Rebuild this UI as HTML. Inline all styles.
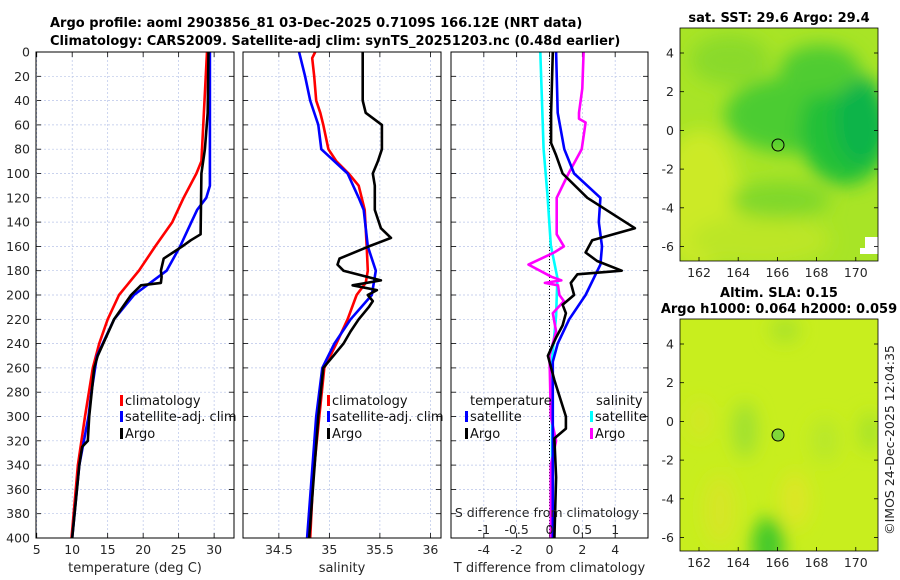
<!DOCTYPE html>
<html><head><meta charset="utf-8">
<style>
body{margin:0;background:#fff;}
svg{display:block;font-family:"DejaVu Sans","Liberation Sans",sans-serif;}
</style></head>
<body>
<svg id="fig" width="900" height="580" viewBox="0 0 900 580">
<defs>
<filter id="blur8"><feGaussianBlur stdDeviation="9"/></filter>
<filter id="blur5"><feGaussianBlur stdDeviation="5"/></filter>
<clipPath id="clipTop"><rect x="680" y="28" width="198" height="233"/></clipPath>
<clipPath id="clipBot"><rect x="680" y="319" width="198" height="232"/></clipPath>
</defs>
<g font-weight="bold" font-size="13">
<text x="50" y="27">Argo profile: aoml 2903856_81 03-Dec-2025 0.7109S 166.12E (NRT data)</text>
<text x="50" y="45">Climatology: CARS2009. Satellite-adj clim: synTS_20251203.nc (0.48d earlier)</text>
</g>
<g id="plots"></g>

<!-- maps -->
<g clip-path="url(#clipTop)">
<rect x="680" y="28" width="198" height="233" fill="#a8e426"/>
<g filter="url(#blur8)">
<ellipse cx="700" cy="200" rx="40" ry="70" fill="#ccea26"/>
<ellipse cx="760" cy="240" rx="70" ry="25" fill="#bce626"/>
<ellipse cx="730" cy="60" rx="40" ry="25" fill="#8ada2a"/>
<ellipse cx="790" cy="115" rx="65" ry="38" fill="#4ccc30"/>
<ellipse cx="845" cy="130" rx="45" ry="55" fill="#20c038"/>
<ellipse cx="860" cy="120" rx="25" ry="45" fill="#10b448"/>
<ellipse cx="820" cy="70" rx="40" ry="25" fill="#50cc30"/>
<ellipse cx="780" cy="200" rx="50" ry="18" fill="#80d82a"/>
</g>
<rect x="865" y="237" width="13" height="17" fill="#fff"/>
<rect x="860" y="248" width="8" height="6" fill="#fff"/>
</g>
<rect x="680" y="28" width="198" height="233" fill="none" stroke="#000" stroke-width="0.8"/>
<circle cx="778" cy="145" r="6" fill="none" stroke="#000" stroke-width="1"/>
<text x="779" y="22" text-anchor="middle" font-weight="bold" font-size="13">sat. SST: 29.6 Argo: 29.4</text>

<g clip-path="url(#clipBot)">
<rect x="680" y="319" width="198" height="232" fill="#c8ee1e"/>
<g filter="url(#blur8)">
<ellipse cx="768" cy="545" rx="16" ry="28" fill="#40c82c"/>
<ellipse cx="745" cy="430" rx="12" ry="28" fill="#9ee030"/>
<ellipse cx="870" cy="432" rx="10" ry="20" fill="#a4e22c"/>
<ellipse cx="825" cy="440" rx="14" ry="22" fill="#b8e82a"/>
<ellipse cx="795" cy="500" rx="14" ry="28" fill="#dde628"/>
<ellipse cx="720" cy="510" rx="16" ry="35" fill="#d6e628"/>
<ellipse cx="700" cy="420" rx="10" ry="20" fill="#d4e626"/>
<ellipse cx="785" cy="330" rx="15" ry="12" fill="#a8e22c"/>
</g>
</g>
<rect x="680" y="319" width="198" height="232" fill="none" stroke="#000" stroke-width="0.8"/>
<circle cx="778" cy="435" r="6" fill="#80d838" stroke="#000" stroke-width="1"/>
<text x="779" y="297" text-anchor="middle" font-weight="bold" font-size="13">Altim. SLA: 0.15</text>
<text x="779" y="313" text-anchor="middle" font-weight="bold" font-size="13">Argo h1000: 0.064 h2000: 0.059</text>
<text transform="translate(894,440) rotate(-90)" text-anchor="middle" font-size="12.5" fill="#222">©IMOS 24-Dec-2025 12:04:35</text>
<g id="mapaxes"></g>
</svg>
<script>
var NS="http://www.w3.org/2000/svg";
// depth axis
var depthTicks=[0,20,40,60,80,100,120,140,160,180,200,220,240,260,280,300,320,340,360,380,400];
// temperature panel
var tTicks=[5,10,15,20,25,30];
var climT_d=[0,90,100,120,140,160,180,200,220,240,260,300,340,400];
var climT_v=[29.0,28.2,27.5,25.7,24.1,21.7,19.4,16.6,15.0,13.8,12.9,11.8,10.8,9.9];
var satT_d=[0,110,120,130,140,160,180,200,220,250,280,300,340,400];
var satT_v=[29.4,29.4,28.9,27.6,26.8,25.2,23.3,18.7,15.9,13.5,12.7,12.3,11.0,10.0];
var argoT_d=[0,50,80,100,150,155,160,170,180,185,190,192,200,220,250,260,300,320,325,340,400];
var argoT_v=[29.2,29.1,28.7,28.2,28.1,26.7,25.5,22.9,22.5,22.6,22.5,19.7,18.3,15.9,13.6,13.1,12.4,12.2,11.4,11.0,10.0];
// salinity panel
var sTicks=[34.5,35,35.5,36];
var climS_d=[0,5,20,40,50,60,80,90,100,110,130,160,180,190,200,220,240,260,300,350,400];
var climS_v=[34.86,34.83,34.85,34.87,34.91,34.94,34.99,35.07,35.19,35.29,35.35,35.37,35.38,35.36,35.27,35.18,35.07,34.95,34.90,34.84,34.81];
var satS_d=[0,10,20,40,60,80,100,120,130,160,180,200,220,240,260,300,400];
var satS_v=[34.70,34.73,34.76,34.81,34.89,34.92,35.18,35.29,35.34,35.38,35.46,35.42,35.21,35.05,34.93,34.87,34.78];
var argoS_d=[0,40,50,60,80,90,100,110,130,145,153,160,170,175,180,188,192,196,200,205,210,220,230,240,250,260,300,400];
var argoS_v=[35.33,35.33,35.36,35.52,35.52,35.48,35.43,35.45,35.45,35.51,35.61,35.39,35.10,35.08,35.14,35.51,35.23,35.47,35.38,35.43,35.39,35.29,35.21,35.14,35.04,34.94,34.89,34.80];
// difference panel
var tdTicks=[-4,-2,0,2,4];
var sdTicks=[-1,-0.5,0,0.5,1];
var sdTickLabels=["-1","-0.5","0","0.5","1"];
var satSd_d=[0,80,118,159,186,217,253,319,400];
var satSd_v=[-0.14,-0.09,-0.03,0.02,0.12,0.10,0.04,0.04,0.04];
var argoSd_d=[0,30,50,55,58,80,100,120,150,160,165,175,185,188,190,192,200,205,215,230,250,300,320,340,400];
var argoSd_v=[0.52,0.50,0.45,0.45,0.55,0.49,0.29,0.11,0.11,0.22,0.07,-0.32,0.03,0.18,-0.07,0.13,0.15,0.22,0.05,0.10,0.0,0.02,0.10,0.02,0.02];
var satTd_d=[0,50,80,100,120,140,160,175,200,220,240,255,300,400];
var satTd_v=[0.4,0.5,0.9,1.5,3.1,3.0,3.2,3.1,2.2,1.2,0.5,0.2,0.2,0.2];
var argoTd_d=[0,50,75,85,100,120,145,150,155,165,172,180,183,190,200,208,215,225,235,250,270,300,310,318,350,400];
var argoTd_v=[0.2,0.1,0.1,0.4,0.8,2.3,5.2,3.9,2.6,2.2,2.9,4.4,1.7,1.3,1.5,0.8,1.0,0.8,0.4,-0.1,0.3,1.0,1.0,0.3,0.4,0.3];
// map axes
var lonTicks=[162,164,166,168,170];
var latTicks=[4,2,0,-2,-4,-6];

var top0=52,bot0=538;
function yD(d){return top0+(bot0-top0)*d/400;}
function mk(tag,attrs,parent){var e=document.createElementNS(NS,tag);for(var k in attrs)e.setAttribute(k,attrs[k]);parent.appendChild(e);return e;}
var plots=document.getElementById('plots');

var panels=[
 {x0:36,x1:234,vmin:4.9,vmax:32.8,ticks:tTicks,title:"temperature (deg C)",name:"temperature-panel"},
 {x0:243,x1:441,vmin:34.145,vmax:36.105,ticks:sTicks,title:"salinity",name:"salinity-panel"},
 {x0:451,x1:648,vmin:-6.0,vmax:6.0,ticks:tdTicks,title:"T difference from climatology",name:"difference-panel"}
];
panels.forEach(function(p){p.x=function(v){return p.x0+(p.x1-p.x0)*(v-p.vmin)/(p.vmax-p.vmin);};});

panels.forEach(function(p,pi){
 var g=mk('g',{},plots);
 
 
 depthTicks.forEach(function(d){
  var l=mk('line',{x1:p.x0,x2:p.x1,y1:yD(d),y2:yD(d),stroke:'#b8c4e8','stroke-width':0.7,'stroke-dasharray':'2,2'},g);
  
  
  mk('line',{x1:p.x0,x2:p.x0+5,y1:yD(d),y2:yD(d),stroke:'#000','stroke-width':0.8},g);
  mk('line',{x1:p.x1-5,x2:p.x1,y1:yD(d),y2:yD(d),stroke:'#000','stroke-width':0.8},g);
  if(pi===0){var t=mk('text',{x:30,y:yD(d)+4.5,'text-anchor':'end','font-size':12.5,fill:'#262626'},g);t.textContent=d;
   
   }
 });
 p.ticks.forEach(function(v){
  var X=p.x(v);
  mk('line',{x1:X,x2:X,y1:top0,y2:bot0,stroke:'#b8c4e8','stroke-width':0.7,'stroke-dasharray':'2,2'},g);
  mk('line',{x1:X,x2:X,y1:bot0,y2:bot0-5,stroke:'#000','stroke-width':0.8},g);
  mk('line',{x1:X,x2:X,y1:top0,y2:top0+5,stroke:'#000','stroke-width':0.8},g);
  var t=mk('text',{x:X,y:554,'text-anchor':'middle','font-size':12.5,fill:'#262626'},g);t.textContent=v;
  
  
 });
 var tt=mk('text',{x:(p.x0+p.x1)/2,y:572,'text-anchor':'middle','font-size':13,fill:'#262626'},g);tt.textContent=p.title;
 
 
});

function line(p,ds,vs,color,name,scale){
 var pts=ds.map(function(d,i){return p.x(vs[i]*(scale||1)).toFixed(1)+','+yD(d).toFixed(1);}).join(' ');
 var e=mk('polyline',{points:pts,fill:'none',stroke:color,'stroke-width':2.6,'stroke-linejoin':'round'},plots);
 
 
}
var P1=panels[0],P2=panels[1],P3=panels[2];
line(P1,climT_d,climT_v,'#f00','climatology-temperature-line');
line(P1,satT_d,satT_v,'#00f','satellite-temperature-line');
line(P1,argoT_d,argoT_v,'#000','argo-temperature-line');
line(P2,climS_d,climS_v,'#f00','climatology-salinity-line');
line(P2,satS_d,satS_v,'#00f','satellite-salinity-line');
line(P2,argoS_d,argoS_v,'#000','argo-salinity-line');
var zl=mk('line',{x1:P3.x(0),x2:P3.x(0),y1:top0,y2:bot0,stroke:'#000','stroke-width':1,'stroke-dasharray':'1,2'},plots);


line(P3,satSd_d,satSd_v,'#0ff','satellite-salinity-difference-line',4);
line(P3,argoSd_d,argoSd_v,'#f0f','argo-salinity-difference-line',4);
line(P3,satTd_d,satTd_v,'#00f','satellite-temperature-difference-line');
line(P3,argoTd_d,argoTd_v,'#000','argo-temperature-difference-line');

// S axis inside panel 3
var sTitle=mk('text',{x:547,y:517,'text-anchor':'middle','font-size':12.5,fill:'#262626'},plots);
sTitle.textContent="S difference from climatology";


sdTicks.forEach(function(v,i){
 var t=mk('text',{x:P3.x(v*4),y:534,'text-anchor':'middle','font-size':12.5,fill:'#262626'},plots);
 t.textContent=sdTickLabels[i];
 
 
});

// frames
panels.forEach(function(p){mk('rect',{x:p.x0,y:top0,width:p.x1-p.x0,height:bot0-top0,fill:'none',stroke:'#000','stroke-width':1},plots);});

// legends
function legend(x,y,color,label){
 var g=mk('g',{},plots);
 
 
 mk('rect',{x:x,y:y-10,width:3,height:11,fill:color},g);
 var t=mk('text',{x:x+5,y:y,'font-size':13,fill:'#111'},g);t.textContent=label;
}
legend(120,405,'#f00','climatology');legend(120,421,'#00f','satellite-adj. clim');legend(120,438,'#000','Argo');
legend(327,405,'#f00','climatology');legend(327,421,'#00f','satellite-adj. clim');legend(327,438,'#000','Argo');
var lt=mk('text',{x:470,y:405,'font-size':13,fill:'#111'},plots);lt.textContent='temperature';


var ls=mk('text',{x:596,y:405,'font-size':13,fill:'#111'},plots);ls.textContent='salinity';


legend(465,421,'#00f','satellite');legend(465,438,'#000','Argo');
legend(590,421,'#0ff','satellite');legend(590,438,'#f0f','Argo');

// map axes: [bottom edge, y of lat 4, px per degree]
var ma=document.getElementById('mapaxes');
function lonX(l){return 699+(l-162)*19.6;}
[[261,53,19.35],[551,344,19.35]].forEach(function(m){
 lonTicks.forEach(function(l){
  var t=mk('text',{x:lonX(l),y:m[0]+16,'text-anchor':'middle','font-size':12.5,fill:'#262626'},ma);t.textContent=l;
  
  
  mk('line',{x1:lonX(l),x2:lonX(l),y1:m[0],y2:m[0]-4,stroke:'#000','stroke-width':0.8},ma);
 });
 latTicks.forEach(function(la){
  var y=m[1]+(4-la)*m[2];
  var t=mk('text',{x:674,y:y+4.5,'text-anchor':'end','font-size':12.5,fill:'#262626'},ma);t.textContent=la;
  
  
  mk('line',{x1:680,x2:684,y1:y,y2:y,stroke:'#000','stroke-width':0.8},ma);
  mk('line',{x1:874,x2:878,y1:y,y2:y,stroke:'#000','stroke-width':0.8},ma);
 });
});
</script>
</body></html>
